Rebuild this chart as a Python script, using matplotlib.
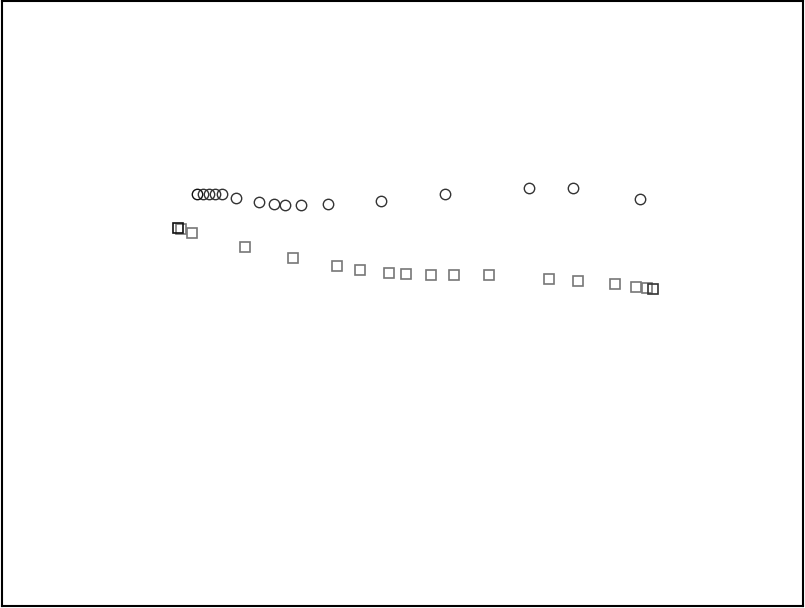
import matplotlib
matplotlib.use("Agg")
import matplotlib.pyplot as plt
import numpy as np

# circle series (x, height above the bottom of the frame)
circ_x = [195, 201, 207, 213, 220, 234, 257, 272, 283, 299, 326, 379, 444, 528, 572, 639]
circ_y = [412, 412, 412, 412, 412, 408, 404, 402, 401, 401, 402, 405, 412, 418, 418, 407]

# square series
sq_x = [176, 179, 190, 243, 291, 335, 358, 387, 405, 430, 453, 488, 548, 577, 614, 635, 646, 652]
sq_y = [378, 377, 373, 359, 348, 340, 336, 333, 332, 331, 331, 331, 327, 325, 322, 319, 318, 317]

fig = plt.figure(figsize=(8.05, 6.08), dpi=100)
ax = fig.add_axes([0.002, 0.003, 0.996, 0.995])

ax.plot(circ_x[1:], circ_y[1:], linestyle="none", marker="o", ms=7.5,
        mfc="none", mec="#333333", mew=1.0)
ax.plot(circ_x[:1], circ_y[:1], linestyle="none", marker="o", ms=7.5,
        mfc="none", mec="#111111", mew=1.0)
ax.plot(sq_x[1:-1], sq_y[1:-1], linestyle="none", marker="s", ms=7,
        mfc="none", mec="#777777", mew=1.2)
ax.plot(sq_x[:1], sq_y[:1], linestyle="none", marker="s", ms=7,
        mfc="none", mec="#111111", mew=1.2)
ax.plot(sq_x[-1:], sq_y[-1:], linestyle="none", marker="s", ms=7,
        mfc="none", mec="#333333", mew=1.2)

ax.set_xlim(0, 802)
ax.set_ylim(0, 605)
ax.set_xticks([])
ax.set_yticks([])
for s in ax.spines.values():
    s.set_linewidth(1.5)

fig.savefig("out.png", dpi=100)
